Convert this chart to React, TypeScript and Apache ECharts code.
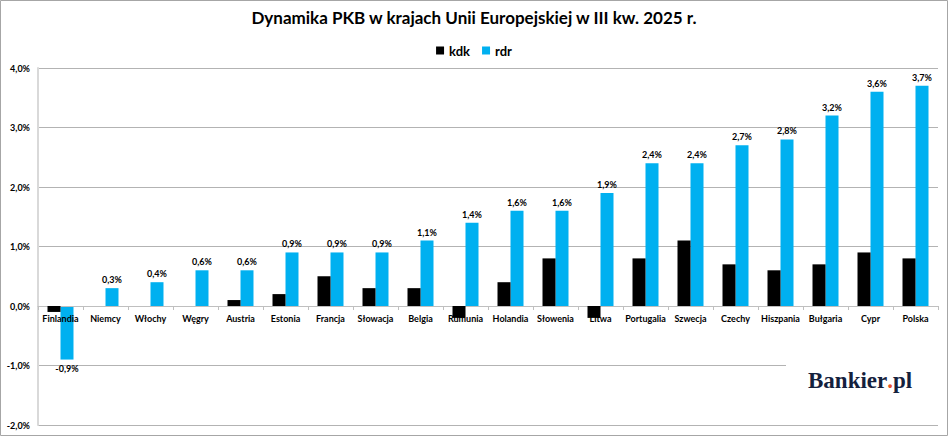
import * as echarts from 'echarts';
import React, { useEffect, useRef } from 'react';

const countries = [
  'Finlandia', 'Niemcy', 'Włochy', 'Węgry', 'Austria', 'Estonia', 'Francja',
  'Słowacja', 'Belgia', 'Rumunia', 'Holandia', 'Słowenia', 'Litwa',
  'Portugalia', 'Szwecja', 'Czechy', 'Hiszpania', 'Bułgaria', 'Cypr', 'Polska',
];
const kdk = [-0.1, 0, 0, 0, 0.1, 0.2, 0.5, 0.3, 0.3, -0.2, 0.4, 0.8, -0.2, 0.8, 1.1, 0.7, 0.6, 0.7, 0.9, 0.8];
const rdr = [-0.9, 0.3, 0.4, 0.6, 0.6, 0.9, 0.9, 0.9, 1.1, 1.4, 1.6, 1.6, 1.9, 2.4, 2.4, 2.7, 2.8, 3.2, 3.6, 3.7];

const FONT = 'Lato';
const pct = (v: number) => v.toFixed(1).replace('.', ',') + '%';

const GRID_TOP = 68;
const GRID_BOTTOM = 11;
const Y_MIN = -2;
const Y_MAX = 4;
// distance from grid bottom to the zero line, so the category axis sits on 0
const zeroOffset = ((436 - GRID_TOP - GRID_BOTTOM) * (0 - Y_MIN)) / (Y_MAX - Y_MIN);

const App: React.FC = () => {
  const chartRef = useRef<HTMLDivElement>(null);

  useEffect(() => {
    document.body.style.margin = '0';
    if (!chartRef.current) return;
    const chart = echarts.init(chartRef.current, null, { renderer: 'svg' });
    chart.setOption({
      animation: false,
      backgroundColor: '#ffffff',
      title: {
        text: 'Dynamika PKB w krajach Unii Europejskiej w III kw. 2025 r.',
        left: 'center',
        top: 9,
        padding: 0,
        textStyle: { fontFamily: FONT, fontSize: 17, fontWeight: 'bold', color: '#000' },
      },
      legend: {
        top: 39,
        left: 'center',
        icon: 'rect',
        itemWidth: 8,
        itemHeight: 8,
        itemGap: 12,
        textStyle: { fontFamily: FONT, fontSize: 13, fontWeight: 'bold', color: '#000' },
        data: ['kdk', 'rdr'],
      },
      grid: {
        left: 38,
        right: 10,
        top: GRID_TOP,
        bottom: GRID_BOTTOM,
        containLabel: false,
        outerBoundsMode: 'none',
      },
      xAxis: {
        type: 'category',
        data: countries,
        z: 3,
        offset: -zeroOffset,
        axisLine: { onZero: false, lineStyle: { color: '#bfbfbf', width: 1 } },
        axisTick: { show: true, length: 4, lineStyle: { color: '#bfbfbf' } },
        axisLabel: {
          interval: 0,
          margin: 8,
          fontFamily: FONT,
          fontSize: 9,
          fontWeight: 'bold',
          color: '#000',
        },
      },
      yAxis: {
        type: 'value',
        min: Y_MIN,
        max: Y_MAX,
        interval: 1,
        axisLine: { show: true, lineStyle: { color: '#d9d9d9', width: 2 } },
        axisTick: { show: false },
        splitLine: { lineStyle: { color: '#b3b3b3', width: 1 } },
        axisLabel: {
          formatter: (v: number) => pct(v),
          margin: 8,
          fontFamily: FONT,
          fontSize: 9,
          fontWeight: 'bold',
          color: '#000',
        },
      },
      series: [
        {
          name: 'kdk',
          type: 'bar',
          z: 4,
          data: kdk,
          barWidth: 13,
          barGap: '0%',
          itemStyle: { color: '#000000' },
        },
        {
          name: 'rdr',
          type: 'bar',
          z: 2,
          barWidth: 13,
          barGap: '0%',
          itemStyle: { color: '#00b0f0' },
          data: rdr.map((v) => ({
            value: v,
            label: { position: v < 0 ? 'bottom' : 'top' },
          })),
          label: {
            show: true,
            distance: 4,
            formatter: (p: any) => pct(p.value),
            fontFamily: FONT,
            fontSize: 9,
            fontWeight: 'bold',
            color: '#000',
          },
        },
      ],
      graphic: [
        {
          type: 'rect',
          z: 100,
          shape: { x: 786, y: 355, width: 153, height: 50 },
          style: { fill: '#ffffff' },
        },
        {
          type: 'text',
          z: 101,
          x: 808,
          y: 369,
          style: {
            text: '{a|Bankier}{b|.}{a|pl}',
            rich: {
              a: { fontFamily: 'Liberation Serif', fontSize: 23, fontWeight: 'bold', fill: '#14213d' },
              b: { fontFamily: 'Liberation Serif', fontSize: 23, fontWeight: 'bold', fill: '#e8552a' },
            },
          },
        },
        {
          type: 'rect',
          z: 102,
          shape: { x: 0.5, y: 0.5, width: 947, height: 435 },
          style: { fill: 'none', stroke: '#a6a6a6', lineWidth: 1 },
        },
      ],
    });
    return () => {
      chart.dispose();
    };
  }, []);

  return <div ref={chartRef} style={{ width: 948, height: 436 }} />;
};

export default App;
